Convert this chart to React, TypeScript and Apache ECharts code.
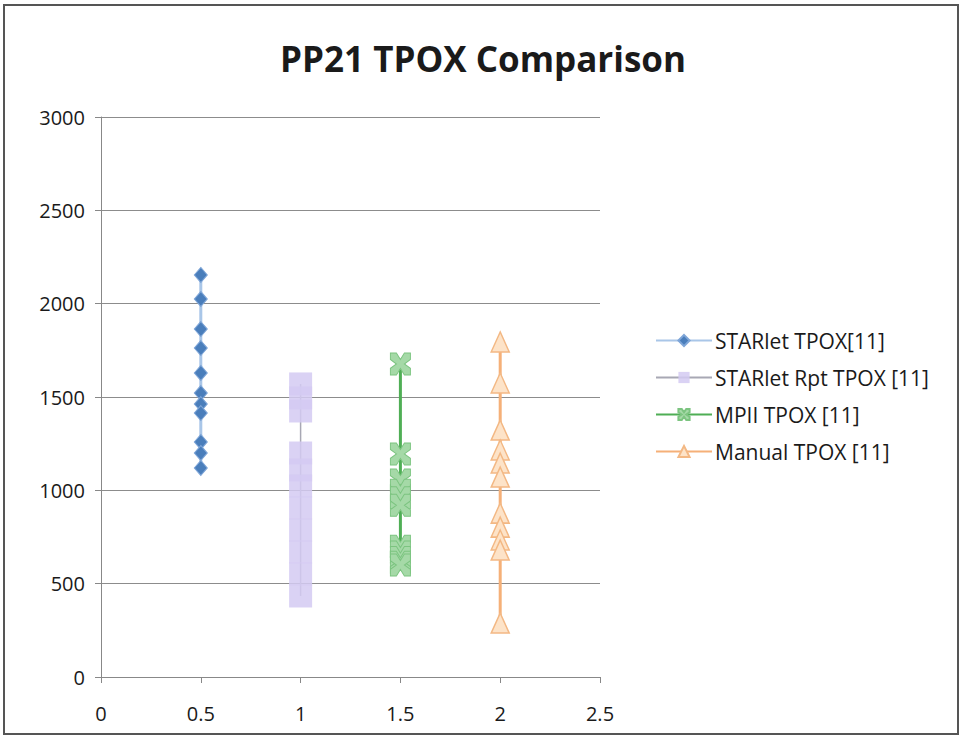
import React, { useEffect, useRef } from "react";
import * as echarts from "echarts";

// TPOX allele [11] peak heights, one column per extraction method
const xPositions = [0.5, 1, 1.5, 2];
const seriesNames = [
  "STARlet TPOX[11]",
  "STARlet Rpt TPOX [11]",
  "MPII TPOX [11]",
  "Manual TPOX [11]",
];
const starletValues = [2154, 2025, 1864, 1762, 1629, 1521, 1462, 1414, 1259, 1200, 1120];
const starletRptValues = [1570, 1495, 1425, 1200, 1109, 1023, 905, 787, 670, 552, 434];
const mpiiValues = [1677, 1195, 1055, 1000, 960, 920, 700, 670, 640, 615, 600];
const manualValues = [1795, 1575, 1323, 1216, 1146, 1071, 878, 803, 734, 680, 289];
const yTicks = [0, 500, 1000, 1500, 2000, 2500, 3000];
const xTicks = [0, 0.5, 1, 1.5, 2, 2.5];

const FONT = "'Open Sans', 'Noto Sans', sans-serif";

const xMarker =
  "path://M0,0 L6,0 L10,6 L14,0 L20,0 L20,6 L14,10 L20,14 L20,20 L14,20 L10,14 L6,20 L0,20 L0,14 L6,10 L0,6 Z";

function toPoints(x: number, values: number[]) {
  return values.map((v) => [x, v]);
}

export default function App() {
  const ref = useRef<HTMLDivElement>(null);

  useEffect(() => {
    if (!ref.current) return;
    const chart = echarts.init(ref.current, null, { renderer: "svg" });
    chart.setOption({
      animation: false,
      backgroundColor: "#ffffff",
      title: {
        text: "PP21 TPOX Comparison",
        left: 478,
        textAlign: "center",
        top: 36,
        textStyle: {
          fontFamily: FONT,
          fontSize: 35,
          fontWeight: "bold",
          color: "#1a1a1a",
        },
      },
      graphic: [
        {
          type: "rect",
          shape: { x: 4, y: 5, width: 954, height: 729 },
          style: { fill: "none", stroke: "#555", lineWidth: 2 },
          silent: true,
        },
      ],
      legend: {
        orient: "vertical",
        left: 650,
        top: 325,
        itemGap: 16,
        itemWidth: 56,
        itemHeight: 14,
        textStyle: { fontFamily: FONT, fontSize: 21, color: "#1a1a1a", padding: [0, 0, 0, -2] },
        data: seriesNames,
      },
      grid: { left: 101, right: 362, top: 117, bottom: 61 },
      xAxis: {
        type: "value",
        min: 0,
        max: 2.5,
        interval: 0.5,
        axisLine: { lineStyle: { color: "#888", width: 1 } },
        axisTick: { show: true, length: 6, lineStyle: { color: "#888" } },
        axisLabel: {
          fontFamily: FONT,
          fontSize: 20,
          color: "#1a1a1a",
          margin: 26,
          formatter: (v: number) => (xTicks.includes(v) ? String(v) : ""),
        },
        splitLine: { show: false },
      },
      yAxis: {
        type: "value",
        min: 0,
        max: 3000,
        interval: 500,
        axisLine: { show: true, lineStyle: { color: "#888", width: 1 } },
        axisTick: { show: true, length: 6, lineStyle: { color: "#888" } },
        axisLabel: {
          fontFamily: FONT,
          fontSize: 20,
          color: "#1a1a1a",
          margin: 16,
          formatter: (v: number) => (yTicks.includes(v) ? String(v) : ""),
        },
        splitLine: { lineStyle: { color: "#8c8c8c", width: 1 } },
      },
      series: [
        {
          name: seriesNames[0],
          type: "line",
          data: toPoints(xPositions[0], starletValues),
          symbol: "diamond",
          symbolSize: [13, 15],
          lineStyle: { color: "#a9c6e8", width: 3 },
          itemStyle: { color: "#4a7ebb", borderColor: "#7fa6d8", borderWidth: 1 },
          z: 5,
        },
        {
          name: seriesNames[1],
          type: "line",
          data: toPoints(xPositions[1], starletRptValues),
          symbol: "rect",
          symbolSize: 23,
          lineStyle: { color: "#a8a8b4", width: 1.5 },
          itemStyle: { color: "rgba(212,202,242,0.85)", borderWidth: 0 },
          z: 2,
        },
        {
          name: seriesNames[2],
          type: "line",
          data: toPoints(xPositions[2], mpiiValues),
          symbol: xMarker,
          symbolSize: [20, 22],
          lineStyle: { color: "#4fae55", width: 3 },
          itemStyle: { color: "#a5d9a7", borderColor: "#7cc480", borderWidth: 1 },
          z: 3,
        },
        {
          name: seriesNames[3],
          type: "line",
          data: toPoints(xPositions[3], manualValues),
          symbol: "triangle",
          symbolSize: [18, 20],
          lineStyle: { color: "#f5b078", width: 3 },
          itemStyle: { color: "#fde3c8", borderColor: "#f3b884", borderWidth: 1.5 },
          z: 4,
        },
      ],
    });
    return () => chart.dispose();
  }, []);

  return (
    <div
      ref={ref}
      style={{ position: "absolute", left: 0, top: 0, width: 962, height: 738 }}
    />
  );
}
